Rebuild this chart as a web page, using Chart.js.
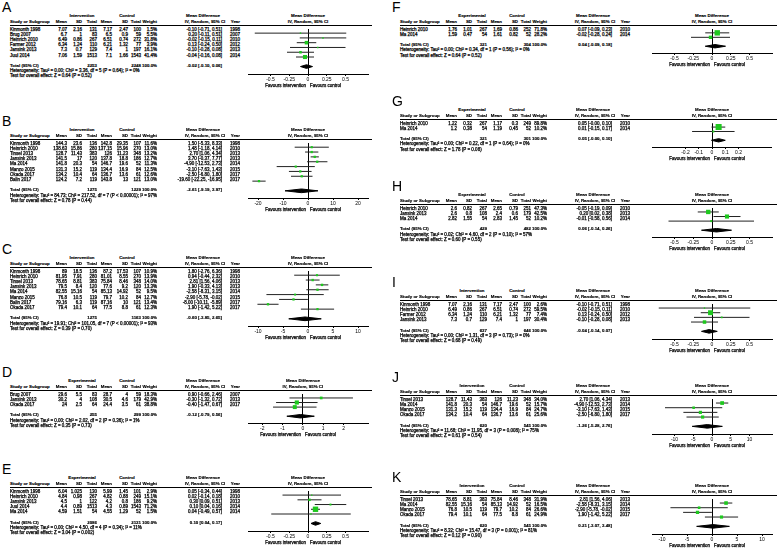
<!DOCTYPE html>
<html>
<head>
<meta charset="utf-8">
<script src="https://cdn.jsdelivr.net/npm/chart.js@4.4.0/dist/chart.umd.min.js"></script>
<style>
  html, body { margin: 0; padding: 0; background: #fff; }
  #page { position: relative; width: 780px; height: 555px; overflow: hidden;
          font-family: "Liberation Sans", Arial, sans-serif; color: #000; }
  .t { position: absolute; white-space: nowrap; font-size: 4.5px; line-height: 6px;
       -webkit-text-stroke: 0.25px #000; }
  .b { font-weight: bold; font-size: 4.4px; -webkit-text-stroke: 0.15px #000; }
  .letter { position: absolute; font-size: 14px; line-height: 14px; }
  .rule { position: absolute; height: 1px; background: #000; }
  canvas { position: absolute; }
</style>
</head>
<body>
<div id="page"></div>
<script>
// ---- data: one block per sub-figure ----
// stats rows: [mean, SD, total] intervention/experimental, then control
const studyA = ["Kinmonth 1998", "Brug 2007", "Heinrich 2010", "Farmer 2012", "Jansink 2013", "Juul 2014"];
const statsA = [[7.07, 2.16, 131, 7.17, 2.47, 100], [6.7, 1, 83, 6.5, 0.9, 59], [6.49, 0.86, 267, 6.51, 0.74, 272],
                [6.34, 1.24, 110, 6.21, 1.32, 77], [7.3, 0.7, 129, 7.4, 1, 197], [7.06, 1.59, 1513, 7.1, 1.66, 1543]];
const weightA = [1.5, 5.5, 31.8, 3.9, 16.1, 41.4];
const mdA = [-0.10, 0.20, -0.02, 0.13, -0.10, -0.04];
const loA = [-0.71, -0.11, -0.15, -0.24, -0.28, -0.16];
const hiA = [0.51, 0.51, 0.11, 0.50, 0.08, 0.08];
const yearA = [1998, 2007, 2010, 2012, 2013, 2014];
const totalA = [2253, 2248, -0.02, -0.10, 0.06];
const hetA = "Heterogeneity: Tau² = 0.00; Chi² = 3.36, df = 5 (P = 0.64); I² = 0%";
const testA = "Test for overall effect: Z = 0.64 (P = 0.52)";
const ticksA = [-0.5, -0.25, 0, 0.25, 0.5];

const studyB = ["Kinmonth 1998", "Heinrich 2010", "Tinsel 2013", "Jansink 2013", "Ma 2014", "Manzo 2015", "Okada 2017", "Balin 2017"];
const statsB = [[144.3, 23.6, 136, 142.8, 29.35, 107], [138.63, 15.86, 280, 137.15, 15.96, 270], [128.7, 11.43, 383, 126, 11.23, 348],
                [141.5, 17, 120, 137.8, 18.8, 186], [141.8, 20.3, 54, 146.7, 19.6, 52], [131.3, 15.2, 119, 134.4, 16.9, 84],
                [134.2, 10.4, 64, 136.7, 13.6, 61], [124.2, 7.2, 119, 143.8, 13, 121]];
const weightB = [11.6, 13.0, 13.2, 12.7, 11.3, 12.5, 12.6, 13.0];
const mdB = [1.50, 1.48, 2.70, 3.70, -4.90, -3.10, -2.50, -19.60];
const loB = [-5.33, -1.18, 1.06, -0.37, -12.53, -7.63, -6.80, -22.25];
const hiB = [8.33, 4.14, 4.34, 7.77, 2.73, 1.43, 1.80, -16.95];
const yearB = [1998, 2010, 2013, 2013, 2014, 2015, 2017, 2017];
const totalB = [1275, 1229, -2.61, -9.19, 3.97];
const hetB = "Heterogeneity: Tau² = 84.73; Chi² = 217.52, df = 7 (P < 0.00001); I² = 97%";
const testB = "Test for overall effect: Z = 0.78 (P = 0.44)";
const ticksB = [-20, -10, 0, 10, 20];

const studyC = ["Kinmonth 1998", "Heinrich 2010", "Tinsel 2013", "Jansink 2013", "Ma 2014", "Manzo 2015", "Balin 2017", "Okada 2017"];
const statsC = [[89, 18.5, 136, 87.2, 17.53, 107], [81.95, 7.91, 280, 81.01, 8.55, 270], [78.65, 8.81, 383, 75.84, 8.46, 348],
                [79.5, 8.4, 120, 77.6, 9.2, 120], [82.55, 15.16, 54, 85.13, 14.92, 52], [76.8, 10.5, 119, 79.7, 10.2, 84],
                [79.16, 6.3, 119, 87.16, 10, 121], [79.4, 10.1, 64, 77.5, 8.8, 61]];
const weightC = [10.9, 13.9, 14.0, 13.3, 9.5, 12.7, 13.4, 12.3];
const mdC = [1.80, 0.94, 2.81, 1.90, -2.58, -2.90, -8.00, 1.90];
const loC = [-2.76, -0.44, 1.56, -0.33, -8.31, -5.78, -10.11, -1.42];
const hiC = [6.36, 2.32, 4.06, 4.13, 3.15, -0.02, -5.89, 5.22];
const yearC = [1998, 2010, 2013, 2013, 2014, 2015, 2017, 2017];
const totalC = [1275, 1163, -0.60, -3.85, 2.65];
const hetC = "Heterogeneity: Tau² = 19.91; Chi² = 101.05, df = 7 (P < 0.00001); I² = 93%";
const testC = "Test for overall effect: Z = 0.39 (P = 0.70)";
const ticksC = [-10, -5, 0, 5, 10];

const studyD = ["Brug 2007", "Jansink 2013", "Okada 2017"];
const statsD = [[29.6, 5.5, 83, 28.7, 4, 59], [30.2, 4, 108, 30.5, 4.6, 179], [24, 2.5, 64, 24.4, 3.5, 61]];
const weightD = [18.3, 42.9, 38.8];
const mdD = [0.90, -0.30, -0.40];
const loD = [-0.66, -1.32, -1.47];
const hiD = [2.46, 0.72, 0.67];
const yearD = [2007, 2013, 2017];
const totalD = [255, 299, -0.12, -0.79, 0.56];
const hetD = "Heterogeneity: Tau² = 0.00; Chi² = 2.02, df = 2 (P = 0.36); I² = 1%";
const testD = "Test for overall effect: Z = 0.35 (P = 0.73)";
const ticksD = [-2, -1, 0, 1, 2];

const studyE = ["Kinmonth 1998", "Heinrich 2010", "Jansink 2013", "Juul 2014", "Ma 2014"];
const statsE = [[6.04, 1.025, 130, 5.99, 1.45, 101], [4.84, 0.98, 267, 4.82, 0.88, 249], [4.5, 1, 122, 4.2, 0.8, 186],
                [4.4, 0.89, 1513, 4.3, 0.89, 1543], [4.59, 1.51, 54, 4.55, 1.29, 52]];
const weightE = [2.9, 15.1, 9.2, 71.2, 1.5];
const mdE = [0.05, 0.02, 0.30, 0.10, 0.04];
const loE = [-0.34, -0.14, 0.09, 0.04, -0.49];
const hiE = [0.44, 0.18, 0.51, 0.16, 0.57];
const yearE = [1998, 2010, 2013, 2014, 2014];
const totalE = [2086, 2131, 0.10, 0.04, 0.17];
const hetE = "Heterogeneity: Tau² = 0.00; Chi² = 4.50, df = 4 (P = 0.34); I² = 11%";
const testE = "Test for overall effect: Z = 3.04 (P = 0.002)";

const studyF = ["Heinrich 2010", "Ma 2014"];
const statsF = [[1.76, 1.01, 267, 1.69, 0.86, 252], [1.59, 0.47, 54, 1.61, 0.82, 52]];
const weightF = [71.8, 28.2];
const mdF = [0.07, -0.02];
const loF = [-0.09, -0.28];
const hiF = [0.23, 0.24];
const yearF = [2010, 2014];
const totalF = [321, 304, 0.04, -0.09, 0.18];
const hetF = "Heterogeneity: Tau² = 0.00; Chi² = 0.34, df = 1 (P = 0.56); I² = 0%";
const testF = "Test for overall effect: Z = 0.64 (P = 0.52)";

const studyG = ["Heinrich 2010", "Ma 2014"];
const statsG = [[1.22, 0.32, 267, 1.17, 0.3, 249], [1.2, 0.38, 54, 1.19, 0.45, 52]];
const weightG = [89.8, 10.2];
const mdG = [0.05, 0.01];
const loG = [-0.004, -0.15];
const hiG = [0.10, 0.17];
const yearG = [2010, 2014];
const totalG = [321, 301, 0.05, -0.004, 0.10];
const hetG = "Heterogeneity: Tau² = 0.00; Chi² = 0.22, df = 1 (P = 0.64); I² = 0%";
const testG = "Test for overall effect: Z = 1.78 (P = 0.08)";
const ticksG = [-0.2, -0.1, 0, 0.1, 0.2];

const studyH = ["Heinrich 2010", "Jansink 2013", "Ma 2014"];
const statsH = [[2.6, 0.82, 267, 2.65, 0.79, 251], [2.6, 0.8, 108, 2.4, 0.6, 179], [2.82, 1.55, 54, 2.83, 1.45, 52]];
const weightH = [47.3, 42.5, 10.2];
const mdH = [-0.05, 0.20, -0.01];
const loH = [-0.19, 0.02, -0.58];
const hiH = [0.09, 0.38, 0.56];
const yearH = [2010, 2013, 2014];
const totalH = [429, 482, 0.06, -0.14, 0.26];
const hetH = "Heterogeneity: Tau² = 0.02; Chi² = 4.60, df = 2 (P = 0.10); I² = 57%";
const testH = "Test for overall effect: Z = 0.60 (P = 0.55)";

const studyI = ["Kinmonth 1998", "Heinrich 2010", "Farmer 2012", "Jansink 2013"];
const statsI = [[7.07, 2.16, 131, 7.17, 2.47, 100], [6.49, 0.86, 267, 6.51, 0.74, 272],
                [6.34, 1.24, 110, 6.21, 1.32, 77], [7.3, 0.7, 129, 7.4, 1, 197]];
const weightI = [2.6, 59.5, 7.4, 30.4];
const mdI = [-0.10, -0.02, 0.13, -0.10];
const loI = [-0.71, -0.15, -0.24, -0.28];
const hiI = [0.51, 0.11, 0.50, 0.08];
const yearI = [1998, 2010, 2012, 2013];
const totalI = [637, 646, -0.04, -0.14, 0.07];
const hetI = "Heterogeneity: Tau² = 0.00; Chi² = 1.31, df = 3 (P = 0.73); I² = 0%";
const testI = "Test for overall effect: Z = 0.68 (P = 0.49)";

const studyJ = ["Tinsel 2013", "Ma 2014", "Manzo 2015", "Okada 2017"];
const statsJ = [[128.7, 11.43, 383, 126, 11.23, 348], [141.8, 20.3, 54, 146.7, 19.6, 52],
                [131.3, 15.2, 119, 134.4, 16.9, 84], [134.2, 10.4, 64, 136.7, 13.6, 61]];
const weightJ = [34.0, 15.7, 24.7, 25.6];
const mdJ = [2.70, -4.90, -3.10, -2.50];
const loJ = [1.06, -12.53, -7.63, -6.80];
const hiJ = [4.34, 2.73, 1.43, 1.80];
const yearJ = [2013, 2014, 2015, 2017];
const totalJ = [620, 545, -1.26, -5.28, 2.76];
const hetJ = "Heterogeneity: Tau² = 11.68; Chi² = 11.95, df = 3 (P = 0.008); I² = 75%";
const testJ = "Test for overall effect: Z = 0.61 (P = 0.54)";

const studyK = ["Tinsel 2013", "Ma 2014", "Manzo 2015", "Okada 2017"];
const statsK = [[78.65, 8.81, 383, 75.84, 8.46, 348], [82.55, 15.16, 54, 85.13, 14.92, 52],
                [76.8, 10.5, 119, 79.7, 10.2, 84], [79.4, 10.1, 64, 77.5, 8.8, 61]];
const weightK = [31.9, 16.5, 26.6, 24.9];
const mdK = [2.81, -2.58, -2.90, 1.90];
const loK = [1.56, -8.31, -5.78, -1.42];
const hiK = [4.06, 3.15, -0.02, 5.22];
const yearK = [2013, 2014, 2015, 2017];
const totalK = [620, 545, 0.21, -3.07, 3.48];
const hetK = "Heterogeneity: Tau² = 8.32; Chi² = 15.47, df = 3 (P = 0.001); I² = 81%";
const testK = "Test for overall effect: Z = 0.12 (P = 0.90)";

// ---- layout ----
const ROW = 5.2;                          // row pitch in px
const colR = [67, 82, 97, 112, 128, 141]; // right edges of the six stats columns
const page = document.getElementById("page");

const panels = [
  { id: "A", col: 0, line: 25,  grp: "Intervention", study: studyA, stats: statsA, weight: weightA, md: mdA, lo: loA, hi: hiA, year: yearA, total: totalA, het: hetA, test: testA, ticks: ticksA, range: [-0.8, 0.8] },
  { id: "B", col: 0, line: 139, grp: "Intervention", study: studyB, stats: statsB, weight: weightB, md: mdB, lo: loB, hi: hiB, year: yearB, total: totalB, het: hetB, test: testB, ticks: ticksB, range: [-24, 24] },
  { id: "C", col: 0, line: 267, grp: "Intervention", study: studyC, stats: statsC, weight: weightC, md: mdC, lo: loC, hi: hiC, year: yearC, total: totalC, het: hetC, test: testC, ticks: ticksC, range: [-12, 12] },
  { id: "D", col: 0, line: 390, grp: "Experimental", study: studyD, stats: statsD, weight: weightD, md: mdD, lo: loD, hi: hiD, year: yearD, total: totalD, het: hetD, test: testD, ticks: ticksD, range: [-2.7, 3.2] },
  { id: "E", col: 0, line: 487, grp: "Experimental", study: studyE, stats: statsE, weight: weightE, md: mdE, lo: loE, hi: hiE, year: yearE, total: totalE, het: hetE, test: testE, ticks: ticksA, range: [-0.8, 0.8] },
  { id: "F", col: 1, line: 25,  grp: "Experimental", study: studyF, stats: statsF, weight: weightF, md: mdF, lo: loF, hi: hiF, year: yearF, total: totalF, het: hetF, test: testF, ticks: ticksA, range: [-0.8, 0.8] },
  { id: "G", col: 1, line: 119, grp: "Experimental", study: studyG, stats: statsG, weight: weightG, md: mdG, lo: loG, hi: hiG, year: yearG, total: totalG, het: hetG, test: testG, ticks: ticksG, range: [-0.45, 0.45] },
  { id: "H", col: 1, line: 204, grp: "Experimental", study: studyH, stats: statsH, weight: weightH, md: mdH, lo: loH, hi: hiH, year: yearH, total: totalH, het: hetH, test: testH, ticks: ticksA, range: [-0.8, 0.8] },
  { id: "I", col: 1, line: 300, grp: "Intervention", study: studyI, stats: statsI, weight: weightI, md: mdI, lo: loI, hi: hiI, year: yearI, total: totalI, het: hetI, test: testI, ticks: ticksA, range: [-0.8, 0.8] },
  { id: "J", col: 1, line: 395, grp: "Intervention", study: studyJ, stats: statsJ, weight: weightJ, md: mdJ, lo: loJ, hi: hiJ, year: yearJ, total: totalJ, het: hetJ, test: testJ, ticks: ticksC, range: [-16, 16] },
  { id: "K", col: 1, line: 495, grp: "Intervention", study: studyK, stats: statsK, weight: weightK, md: mdK, lo: loK, hi: hiK, year: yearK, total: totalK, het: hetK, test: testK, ticks: ticksC, range: [-12, 12] },
];

// place one text label; y is the vertical centre
function put(x, y, str, align, bold) {
  const d = document.createElement("div");
  d.className = "t" + (bold ? " b" : "");
  d.textContent = str;
  d.style.left = x + "px";
  d.style.top = (y - 3) + "px";
  if (align === "r") d.style.transform = "translateX(-100%)";
  if (align === "c") d.style.transform = "translateX(-50%)";
  page.appendChild(d);
}

const fmt = (v) => v.toFixed(2);
const ciText = (m, l, h) => fmt(m) + " [" + fmt(l) + ", " + fmt(h) + "]";

function drawPanel(p) {
  const x0 = p.col ? 390 : 0;
  const L = p.line;
  const n = p.study.length;
  const tIdx = n + 1;
  const totalY = L + 4.5 + ROW * tIdx;
  const axisY = totalY + 8;

  // panel letter
  const lt = document.createElement("div");
  lt.className = "letter";
  lt.textContent = p.id;
  lt.style.left = (x0 + 2) + "px";
  lt.style.top = (L - 25.5) + "px";
  page.appendChild(lt);

  // headers
  put(x0 + 82, L - 9, p.grp, "c", true);
  put(x0 + 127, L - 9, "Control", "c", true);
  put(x0 + 203, L - 9, "Mean Difference", "c", true);
  put(x0 + 10, L - 3, "Study or Subgroup", "l", true);
  ["Mean", "SD", "Total", "Mean", "SD", "Total"].forEach((h, k) => put(x0 + colR[k], L - 3, h, "r", true));
  put(x0 + 157, L - 3, "Weight", "r", true);
  put(x0 + 205, L - 3, "IV, Random, 95% CI", "c", true);
  put(x0 + 240, L - 3, "Year", "r", true);

  const rule = document.createElement("div");
  rule.className = "rule";
  rule.style.left = (x0 + 10) + "px";
  rule.style.top = L + "px";
  rule.style.width = (p.col ? 377 : 362) + "px";
  page.appendChild(rule);

  // study rows
  p.study.forEach((name, i) => {
    const y = L + 4.5 + ROW * i;
    put(x0 + 10, y, name, "l");
    p.stats[i].forEach((v, k) => put(x0 + colR[k], y, String(v), "r"));
    put(x0 + 157, y, p.weight[i].toFixed(1) + "%", "r");
    put(x0 + 222, y, ciText(p.md[i], p.lo[i], p.hi[i]), "r");
    put(x0 + 240, y, String(p.year[i]), "r");
  });

  // total + footer
  const [nE, nC, tm, tl, th] = p.total;
  put(x0 + 10, totalY, "Total (95% CI)", "l", true);
  put(x0 + colR[2], totalY, String(nE), "r", true);
  put(x0 + colR[5], totalY, String(nC), "r", true);
  put(x0 + 157, totalY, "100.0%", "r", true);
  put(x0 + 222, totalY, ciText(tm, tl, th), "r", true);
  put(x0 + 10, totalY + 5.3, p.het, "l");
  put(x0 + 10, totalY + 10.5, p.test, "l");

  // forest plot
  const areaH = Math.round(axisY - L);
  const cLeft = (p.col ? 652 : 248) - 4;
  const cv = document.createElement("canvas");
  cv.width = 128;
  cv.height = areaH + 9;
  cv.style.width = "128px";
  cv.style.height = (areaH + 9) + "px";
  cv.style.left = cLeft + "px";
  cv.style.top = L + "px";
  page.appendChild(cv);

  const datasets = [];
  datasets.push({
    data: p.md.map((m, i) => ({ x: m, y: i })),
    pointStyle: "rect",
    pointRadius: p.weight.map((w) => Math.max(1, 0.45 * Math.sqrt(w))),
    backgroundColor: "#1ec81e",
    borderWidth: 0,
    order: 0,
  });
  p.md.forEach((m, i) => {
    datasets.push({
      data: [{ x: p.lo[i], y: i }, { x: p.hi[i], y: i }],
      showLine: true, borderColor: "#222", borderWidth: 1, pointRadius: 0, order: 1,
    });
  });
  datasets.push({
    data: [{ x: tl, y: tIdx }, { x: tm, y: tIdx - 0.38 }, { x: th, y: tIdx }, { x: tm, y: tIdx + 0.38 }, { x: tl, y: tIdx }],
    showLine: true, fill: "shape", backgroundColor: "#000", borderColor: "#000", borderWidth: 1, pointRadius: 0, order: 1,
  });

  const chart = new Chart(cv, {
    type: "scatter",
    data: { datasets },
    options: {
      responsive: false,
      animation: false,
      devicePixelRatio: 1,
      layout: { padding: { left: 4, right: 4, top: 0, bottom: 0 } },
      plugins: { legend: { display: false }, tooltip: { enabled: false } },
      scales: {
        x: {
          type: "linear",
          min: p.range[0],
          max: p.range[1],
          afterBuildTicks: (sc) => { sc.ticks = p.ticks.map((v) => ({ value: v })); },
          afterFit: (sc) => { sc.height = 9; },
          grid: {
            color: (c) => (c.tick && c.tick.value === 0 ? "#000" : "rgba(0,0,0,0)"),
            tickColor: "#000",
            tickLength: 2,
            lineWidth: 1,
          },
          border: { color: "#000", width: 1 },
          ticks: {
            font: { size: 5, family: '"Liberation Sans", Arial' },
            color: "#000",
            padding: 1,
            maxRotation: 0,
            autoSkip: false,
            callback: (v) => String(v),
          },
        },
        y: { type: "linear", display: false, reverse: true, min: -4.5 / ROW, max: (areaH - 4.5) / ROW },
      },
    },
  });

  const zeroPx = cLeft + chart.scales.x.getPixelForValue(0);
  put(zeroPx, L - 9, "Mean Difference", "c", true);
  put(zeroPx, L - 3, "IV, Random, 95% CI", "c", true);
  put(zeroPx - 2, axisY + 12, "Favours intervention", "r");
  put(zeroPx + 2, axisY + 12, "Favours control", "l");
}

panels.forEach(drawPanel);
</script>
</body>
</html>
